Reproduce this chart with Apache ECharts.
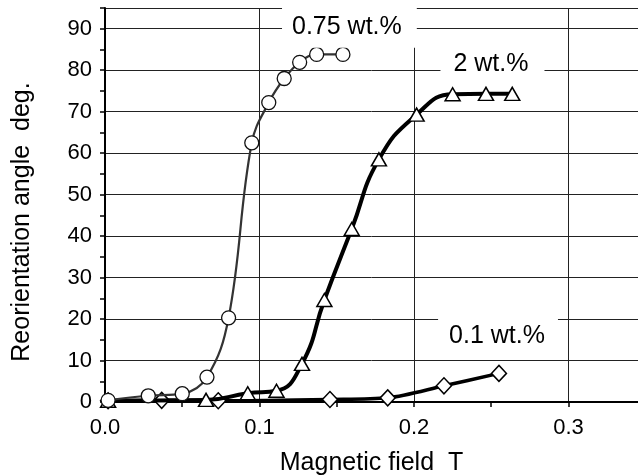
<!DOCTYPE html>
<html>
<head>
<meta charset="utf-8">
<script src="https://cdn.jsdelivr.net/npm/echarts@6/dist/echarts.min.js"></script>
<style>
html,body{margin:0;padding:0;background:#fff;}
#c{width:638px;height:476px;}
</style>
</head>
<body>
<div id="c"></div>
<script>
// Data
var field075 = [0.002, 0.028, 0.050, 0.066, 0.080, 0.095, 0.106, 0.116, 0.126, 0.137, 0.154];
var angle075 = [0.4, 1.5, 2.0, 6.0, 20.3, 62.5, 72.2, 78.0, 81.9, 83.8, 83.8];
var field2 = [0.002, 0.0654, 0.0924, 0.111, 0.1275, 0.142, 0.1597, 0.1773, 0.2017, 0.225, 0.2466, 0.2636];
var angle2 = [0.3, 0.5, 2.1, 2.7, 9.2, 24.6, 41.7, 58.5, 69.3, 74.2, 74.3, 74.3];
var field01 = [0.002, 0.0367, 0.0733, 0.1456, 0.183, 0.2194, 0.255];
var angle01 = [0.3, 0.4, 0.3, 0.6, 1.0, 3.9, 6.9];
var labelTexts = ['0.75 wt.%', '2 wt.%', '0.1 wt.%'];
var labelX = [0.1582, 0.2508, 0.2544];
var labelY = [90.5, 81.4, 15.9];
var xTitle = 'Magnetic field  T';
var yTitle = 'Reorientation angle  deg.';

function pairs(xs, ys) { return xs.map(function (x, i) { return [x, ys[i]]; }); }

var font = '"Liberation Sans", Arial, Helvetica, sans-serif';
var labelPads = [[6, 15, 11, 10], [8, 16, 8, 13], [10, 13, 6, 11]];
var XMAX = 0.345, YMAX = 95;

var chart = echarts.init(document.getElementById('c'), null, {renderer: 'canvas'});
chart.setOption({
  animation: false,
  backgroundColor: '#fff',
  grid: {left: 105, right: 0, top: 8, bottom: 74, containLabel: false, outerBoundsMode: 'none'},
  xAxis: [{
    type: 'value', min: 0, max: XMAX, interval: 0.05,
    name: xTitle, nameLocation: 'middle', nameGap: 49,
    nameTextStyle: {fontFamily: font, fontSize: 25, color: '#000'},
    axisLine: {show: true, onZero: false, lineStyle: {color: '#000', width: 2}},
    axisTick: {show: true, inside: false, length: 5, lineStyle: {color: '#000', width: 1.5}},
    axisLabel: {
      fontFamily: font, fontSize: 22, color: '#000', margin: 15, showMaxLabel: false,
      formatter: function (v) {
        var r = Math.round(v * 10) / 10;
        return Math.abs(r - v) < 1e-6 ? r.toFixed(1) : '';
      }
    },
    splitLine: {show: false}
  }, {
    type: 'value', min: 0, max: XMAX, interval: 0.1, position: 'bottom',
    axisLine: {show: false}, axisTick: {show: false}, axisLabel: {show: false},
    splitLine: {show: true, showMinLine: false, showMaxLine: false, lineStyle: {color: '#222', width: 1}}
  }],
  yAxis: [{
    type: 'value', min: 0, max: YMAX, interval: 5,
    name: yTitle, nameLocation: 'middle', nameGap: 70, nameRotate: 90,
    nameTextStyle: {fontFamily: font, fontSize: 25, color: '#000', padding: [0, 34, 0, 0]},
    axisLine: {show: true, onZero: false, lineStyle: {color: '#000', width: 2}},
    axisTick: {show: true, inside: false, length: 5, lineStyle: {color: '#000', width: 1.5}},
    axisLabel: {
      fontFamily: font, fontSize: 22, color: '#000', margin: 13,
      formatter: function (v) { return (v % 10 === 0 && v <= 90) ? String(v) : ''; }
    },
    splitLine: {show: false}
  }, {
    type: 'value', min: 0, max: YMAX, interval: 10, position: 'left',
    axisLine: {show: false}, axisTick: {show: false}, axisLabel: {show: false},
    splitLine: {show: true, showMinLine: false, showMaxLine: true, lineStyle: {color: '#222', width: 1}}
  }],
  series: [
    {
      name: '0.1 wt.%', type: 'line', data: pairs(field01, angle01), smooth: 0.3,
      symbol: 'diamond', symbolSize: [15, 16], z: 3,
      lineStyle: {color: '#000', width: 3.5},
      itemStyle: {color: '#fff', borderColor: '#000', borderWidth: 1.5}
    },
    {
      name: '2 wt.%', type: 'line', data: pairs(field2, angle2), smooth: 0.5,
      symbol: 'triangle', symbolSize: [15, 13], z: 4,
      lineStyle: {color: '#000', width: 4},
      itemStyle: {color: '#fff', borderColor: '#000', borderWidth: 1.5}
    },
    {
      name: '0.75 wt.%', type: 'line', data: pairs(field075, angle075), smooth: 0.4,
      symbol: 'circle', symbolSize: 14, z: 5,
      lineStyle: {color: '#333', width: 2.2},
      itemStyle: {color: '#fff', borderColor: '#111', borderWidth: 1.3}
    }
  ]
});

// Series labels: placed at data coordinates through the chart's own scales
var graphics = labelTexts.map(function (t, i) {
  var p = chart.convertToPixel({xAxisIndex: 0, yAxisIndex: 0}, [labelX[i], labelY[i]]);
  return {
    type: 'text', x: p[0], y: p[1], z: 100,
    style: {
      text: t, fill: '#000', font: '25px ' + font,
      align: 'center', verticalAlign: 'middle',
      backgroundColor: '#fff', padding: labelPads[i]
    }
  };
});
chart.setOption({graphic: graphics});
</script>
</body>
</html>
